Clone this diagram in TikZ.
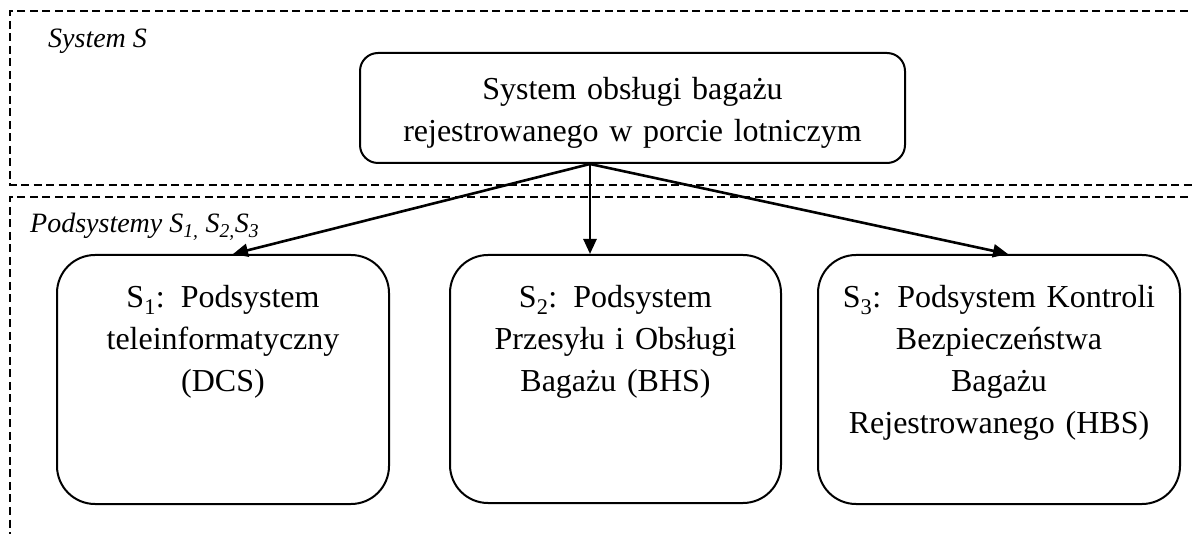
\documentclass[tikz,border=0pt]{standalone}
\usepackage{fontspec}
\setmainfont{Liberation Serif}
\usetikzlibrary{arrows.meta}
\begin{document}
\begin{tikzpicture}[x=1pt,y=-1pt,
  frame/.style={draw, line width=1.8pt, dash pattern=on 8pt off 4.5pt},
  mainbox/.style={draw, line width=2pt, rounded corners=18pt, minimum width=545pt, minimum height=110pt, inner sep=0pt},
  subbox/.style={draw, line width=2pt, rounded corners=38pt, inner sep=0pt},
  boxtext/.style={font=\fontsize{32}{42}\selectfont, text width=#1, align=center, anchor=base, inner sep=0pt},
  tag/.style={font=\fontsize{28}{34}\selectfont\itshape, anchor=base west, inner sep=0pt},
  link/.style={line width=2.6pt, -{Triangle[length=15pt,width=13pt]}}
]
\clip (0,0) rectangle (1192,534);

% dashed frames of the two levels
\draw[frame] (1200,11) -- (10,11) -- (10,185) -- (1200,185);
\draw[frame] (1200,197) -- (10,197) -- (10,560);

\node[tag] (sysS) at (48,48) {System S};
\node[tag] (podS) at (30,233) {Podsystemy S\textsubscript{1,} S\textsubscript{2,}S\textsubscript{3}};

% system
\node[mainbox] (top) at (632.5,108) {};
\node[boxtext=530pt] (topt) at (632.5,100) {System obsługi bagażu\\ rejestrowanego w porcie lotniczym};

% subsystems
\node[subbox, minimum width=332pt, minimum height=249pt] (s1) at (223,379.5) {};
\node[subbox, minimum width=331pt, minimum height=248pt] (s2) at (615.5,379) {};
\node[subbox, minimum width=362pt, minimum height=249pt] (s3) at (999,379.5) {};

\node[boxtext=320pt] (s1t) at (223,308) {S\textsubscript{1}: Podsystem\\ teleinformatyczny\\ (DCS)};
\node[boxtext=320pt] (s2t) at (615.5,308) {S\textsubscript{2}: Podsystem\\ Przesyłu i Obsługi\\ Bagażu (BHS)};
\node[boxtext=350pt] (s3t) at (999,308) {S\textsubscript{3}: Podsystem Kontroli\\ Bezpieczeństwa\\ Bagażu\\ Rejestrowanego (HBS)};

% connectors
\coordinate (hub) at ([xshift=-42.5pt]top.south);
\draw[link] (hub) -- ([xshift=10pt]s1.north);
\draw[link] (hub) -- ([xshift=-25.5pt]s2.north);
\draw[link] (hub) -- ([xshift=9pt]s3.north);
\end{tikzpicture}
\end{document}
